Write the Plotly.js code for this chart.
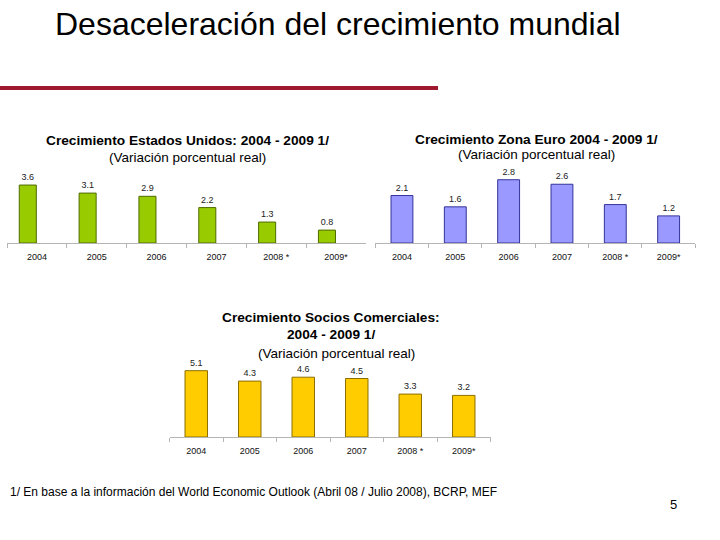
<!DOCTYPE html>
<html>
<head>
<meta charset="utf-8">
<script src="https://cdn.plot.ly/plotly-3.0.1.min.js"></script>
<style>
  html, body { margin: 0; padding: 0; background: #ffffff; }
  #chart { width: 720px; height: 540px; }
</style>
</head>
<body>
<div id="chart"></div>
<script>
// Years shown on every panel
const years = ["2004", "2005", "2006", "2007", "2008 *", "2009*"];

// Real GDP growth (%) per region
const usaGrowth = [3.6, 3.1, 2.9, 2.2, 1.3, 0.8];
const euroGrowth = [2.1, 1.6, 2.8, 2.6, 1.7, 1.2];
const partnersGrowth = [5.1, 4.3, 4.6, 4.5, 3.3, 3.2];

const W = 720, H = 540;
const FONT = "Liberation Sans, Arial, sans-serif";
const px = v => v / W;          // horizontal pixel -> paper fraction
const py = v => 1 - v / H;      // vertical pixel -> paper fraction

function barTrace(vals, xa, ya, fill, edge, width, offset) {
  const t = {
    type: "bar",
    x: years,
    y: vals,
    xaxis: xa,
    yaxis: ya,
    width: width,
    marker: { color: fill, line: { color: edge, width: 1 } },
    text: vals.map(v => v.toFixed(1)),
    textposition: "outside",
    textfont: { family: FONT, size: 9, color: "#222222" },
    cliponaxis: false,
    hoverinfo: "skip",
    showlegend: false
  };
  if (offset !== undefined) t.offset = offset;
  return t;
}

const traces = [
  barTrace(usaGrowth, "x", "y", "#99cc00", "#4f6a00", 0.285, -0.295),
  barTrace(euroGrowth, "x2", "y2", "#9999ff", "#333399", 0.41),
  barTrace(partnersGrowth, "x3", "y3", "#ffcc00", "#8c6e00", 0.42)
];

function catAxis(domain, anchor) {
  return {
    type: "category",
    anchor: anchor,
    domain: domain,
    range: [-0.5, 5.5],
    showline: true,
    linecolor: "#b5b5b5",
    linewidth: 1,
    ticks: "outside",
    tickson: "boundaries",
    ticklen: 4,
    tickcolor: "#b5b5b5",
    ticklabelstandoff: 5,
    showgrid: false,
    zeroline: false,
    tickfont: { family: FONT, size: 9, color: "#111111" },
    fixedrange: true
  };
}

function valAxis(domain, max, anchor) {
  return {
    anchor: anchor,
    domain: domain,
    range: [0, max],
    showline: false,
    showgrid: false,
    zeroline: false,
    showticklabels: false,
    ticks: "",
    fixedrange: true
  };
}

function note(text, x, y, size, opts) {
  return Object.assign({
    text: text,
    xref: "paper", yref: "paper",
    x: px(x), y: py(y),
    xanchor: "center", yanchor: "middle",
    showarrow: false,
    font: { family: FONT, size: size, color: "#000000" }
  }, opts || {});
}

const layout = {
  width: W,
  height: H,
  margin: { l: 0, r: 0, t: 0, b: 0 },
  paper_bgcolor: "#ffffff",
  plot_bgcolor: "rgba(0,0,0,0)",
  bargap: 0,
  xaxis: catAxis([px(7), px(366)], "y"),
  yaxis: valAxis([py(243), py(170.6)], 72.4 / 16.1, "x"),
  xaxis2: catAxis([px(375.3), px(695.3)], "y2"),
  yaxis2: valAxis([py(243), py(170.6)], 72.4 / 22.6, "x2"),
  xaxis3: catAxis([px(169.5), px(490.5)], "y3"),
  yaxis3: valAxis([py(437), py(359)], 6, "x3"),
  shapes: [
    {
      type: "line", xref: "paper", yref: "paper",
      x0: px(0), x1: px(438), y0: py(88), y1: py(88),
      line: { color: "#a0182f", width: 4 }
    }
  ],
  annotations: [
    note("Desaceleración del crecimiento mundial", 53, 24, 32, { xanchor: "left" }),
    note("<b>Crecimiento Estados Unidos: 2004 - 2009 1/</b>", 187, 140, 13.7),
    note("(Variación porcentual real)", 187, 157, 13.5),
    note("<b>Crecimiento Zona Euro 2004 - 2009 1/</b>", 536, 139, 13.7),
    note("(Variación porcentual real)", 536, 155, 13.5),
    note("<b>Crecimiento Socios Comerciales:</b>", 331, 317, 13.7),
    note("<b>2004 - 2009 1/</b>", 331, 334, 13.7),
    note("(Variación porcentual real)", 336, 353, 13.5),
    note("1/ En base a la información del World Economic Outlook (Abril 08 / Julio 2008), BCRP, MEF",
         8, 492, 12, { xanchor: "left" }),
    note("5", 673, 504, 13)
  ]
};

Plotly.newPlot("chart", traces, layout, { displayModeBar: false, staticPlot: true });
</script>
</body>
</html>
